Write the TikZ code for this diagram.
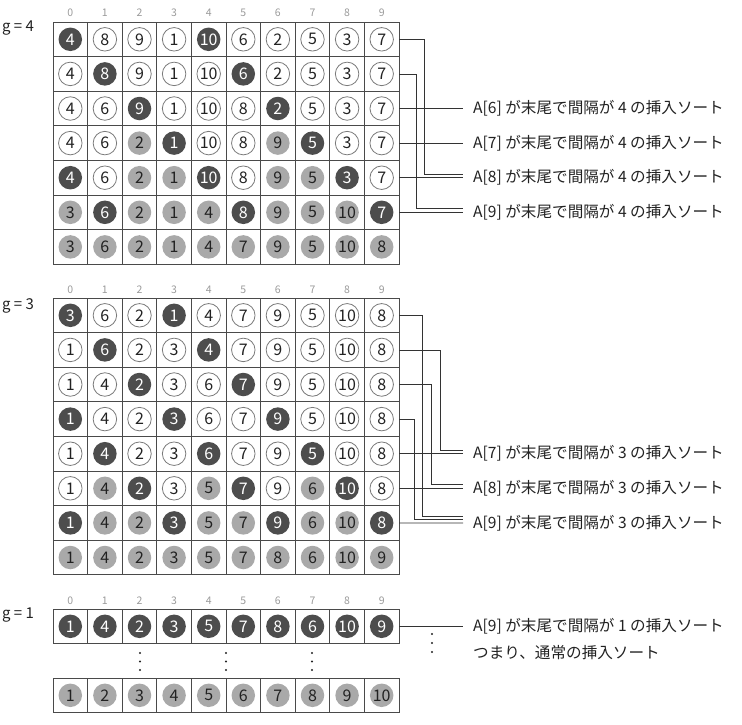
\documentclass[tikz,border=0pt]{standalone}
\usepackage{fontspec}
\setmainfont{Noto Sans CJK JP}
\definecolor{gridc}{HTML}{4A4A4A}
\definecolor{darkc}{HTML}{4D4D4D}
\definecolor{lightc}{HTML}{A9A9A9}
\definecolor{ringc}{HTML}{7A7A7A}
\definecolor{textc}{HTML}{222222}
\definecolor{idxc}{HTML}{9A9A9A}
\definecolor{connc}{HTML}{333333}
\tikzset{
 cellbox/.style={draw=gridc, line width=0.9pt, minimum width=34.6pt, minimum height=34.6pt, inner sep=0pt, outer sep=0pt},
 circ/.style={circle, minimum size=23.5pt, inner sep=0pt, font=\fontsize{16}{16}\selectfont},
 cW/.style={draw=ringc, line width=0.8pt, fill=white, text=textc},
 cD/.style={fill=darkc, text=white},
 cL/.style={fill=lightc, text=textc},
 colidx/.style={text=idxc, font=\fontsize{10.5}{10.5}\selectfont, inner sep=0pt},
 glabel/.style={font=\fontsize{15}{15}\selectfont, text=textc, inner sep=0pt},
 lab/.style={anchor=west, inner xsep=10pt, inner ysep=0pt, font=\fontsize{15.6}{15.6}\selectfont, text=textc},
 conn/.style={draw=connc, line width=0.75pt},
 dotc/.style={fill=textc},
}
\newcommand\arrrow[3]{%
 \foreach \v/\t [count=\c from 0] in {#3}{%
   \node[cellbox] (#1c\c) at (70.3+34.6*\c, #2+17.3) {};
   \node[circ, c\t] (#1n\c) at (#1c\c) {\v};
 }}
\newcommand\colheads[2]{%
 \foreach \c in {0,...,9}{\node[colidx] (#1\c) at (70.3+34.6*\c, #2) {\c};}}
\begin{document}
\begin{tikzpicture}[x=1pt,y=-1pt]
\useasboundingbox (0,0) rectangle (742,724);
% ---------- g = 4 ----------
\node[glabel] (g4) at (18,28) {g = 4};
\colheads{ha}{13}
\arrrow{a0}{22}{4/D,8/W,9/W,1/W,10/D,6/W,2/W,5/W,3/W,7/W}
\arrrow{a1}{56.6}{4/W,8/D,9/W,1/W,10/W,6/D,2/W,5/W,3/W,7/W}
\arrrow{a2}{91.2}{4/W,6/W,9/D,1/W,10/W,8/W,2/D,5/W,3/W,7/W}
\arrrow{a3}{125.8}{4/W,6/W,2/L,1/D,10/W,8/W,9/L,5/D,3/W,7/W}
\arrrow{a4}{160.4}{4/D,6/W,2/L,1/L,10/D,8/W,9/L,5/L,3/D,7/W}
\arrrow{a5}{195}{3/L,6/D,2/L,1/L,4/L,8/D,9/L,5/L,10/L,7/D}
\arrrow{a6}{229.6}{3/L,6/L,2/L,1/L,4/L,7/L,9/L,5/L,10/L,8/L}
\node[lab] (l6) at (463,108.5) {A[6] が末尾で間隔が 4 の挿入ソート};
\node[lab] (l7) at (463,143.1) {A[7] が末尾で間隔が 4 の挿入ソート};
\node[lab] (l8) at (463,177.7) {A[8] が末尾で間隔が 4 の挿入ソート};
\node[lab] (l9) at (463,212.3) {A[9] が末尾で間隔が 4 の挿入ソート};
\draw[conn] (a2c9.east) -- (l6.west);
\draw[conn] (a3c9.east) -- (l7.west);
\draw[conn] (a4c9.east) -- (l8.west);
\draw[conn] (a5c9.east) -- (l9.west);
\draw[conn] (a0c9.east) -- ++(25,0) |- ([yshift=3.7pt]l8.west);
\draw[conn] (a1c9.east) -- ++(17,0) |- ([yshift=3.7pt]l9.west);
% ---------- g = 3 ----------
\node[glabel] (g3) at (18,306) {g = 3};
\colheads{hb}{289.5}
\arrrow{b0}{298}{3/D,6/W,2/W,1/D,4/W,7/W,9/W,5/W,10/W,8/W}
\arrrow{b1}{332.6}{1/W,6/D,2/W,3/W,4/D,7/W,9/W,5/W,10/W,8/W}
\arrrow{b2}{367.2}{1/W,4/W,2/D,3/W,6/W,7/D,9/W,5/W,10/W,8/W}
\arrrow{b3}{401.8}{1/D,4/W,2/W,3/D,6/W,7/W,9/D,5/W,10/W,8/W}
\arrrow{b4}{436.4}{1/W,4/D,2/W,3/W,6/D,7/W,9/W,5/D,10/W,8/W}
\arrrow{b5}{471}{1/W,4/L,2/D,3/W,5/L,7/D,9/W,6/L,10/D,8/W}
\arrrow{b6}{505.6}{1/D,4/L,2/L,3/D,5/L,7/L,9/D,6/L,10/L,8/D}
\arrrow{b7}{540.2}{1/L,4/L,2/L,3/L,5/L,7/L,8/L,6/L,10/L,9/L}
\node[lab] (m7) at (463,453.7) {A[7] が末尾で間隔が 3 の挿入ソート};
\node[lab] (m8) at (463,488.3) {A[8] が末尾で間隔が 3 の挿入ソート};
\node[lab] (m9) at (463,522.9) {A[9] が末尾で間隔が 3 の挿入ソート};
\draw[conn] (b4c9.east) -- (m7.west);
\draw[conn] (b5c9.east) -- (m8.west);
\draw[conn] (b6c9.east) -- (m9.west);
\draw[conn] (b0c9.east) -- ++(23,0) |- ([yshift=7pt]m9.west);
\draw[conn] (b1c9.east) -- ++(41,0) |- ([yshift=3.5pt]m7.west);
\draw[conn] (b2c9.east) -- ++(32,0) |- ([yshift=3.5pt]m8.west);
\draw[conn] (b3c9.east) -- ++(15,0) |- ([yshift=3.5pt]m9.west);
% ---------- g = 1 ----------
\node[glabel] (g1) at (18,615) {g = 1};
\colheads{hc}{601}
\arrrow{c0}{609}{1/D,4/D,2/D,3/D,5/D,7/D,8/D,6/D,10/D,9/D}
\arrrow{c1}{678}{1/L,2/L,3/L,4/L,5/L,6/L,7/L,8/L,9/L,10/L}
\node[lab] (n9) at (463,626.3) {A[9] が末尾で間隔が 1 の挿入ソート};
\node[lab] (n10) at (463,652.5) {つまり、通常の挿入ソート};
\draw[conn] (c0c9.east) -- (n9.west);
\foreach \x in {140,226,312}{\foreach \y in {653,661.5,670}{\fill[dotc] (\x,\y) circle (1.2pt);}}
\foreach \y in {634,643,652}{\fill[dotc] (432,\y) circle (1.2pt);}
\end{tikzpicture}
\end{document}
